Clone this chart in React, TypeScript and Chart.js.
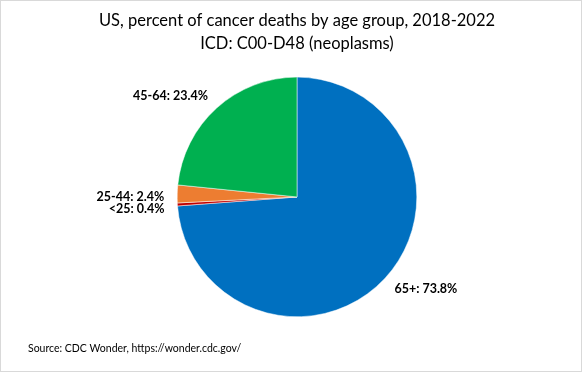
import React, { useEffect, useRef } from "react";
import { Chart, registerables } from "chart.js";

Chart.register(...registerables);

const categories = ["65+", "<25", "25-44", "45-64"];
const percents = [73.8, 0.4, 2.4, 23.4];
const sliceColors = ["#0070C0", "#C00000", "#ED7D31", "#00B050"];
const titleLines = ["US, percent of cancer deaths by age group, 2018-2022", "ICD: C00-D48 (neoplasms)"];
const sourceText = "Source: CDC Wonder, https://wonder.cdc.gov/";
const FONT = "Lato, 'Open Sans', sans-serif";

const labelPlugin = {
  id: "sliceLabels",
  afterDraw(chart: any) {
    const ctx = chart.ctx;
    const meta = chart.getDatasetMeta(0);
    ctx.save();
    ctx.fillStyle = "#000";
    ctx.font = `bold 12.5px ${FONT}`;
    ctx.textBaseline = "middle";
    meta.data.forEach((arc: any, i: number) => {
      const p = arc.getProps(["x", "y", "startAngle", "endAngle", "outerRadius"], true);
      const mid = (p.startAngle + p.endAngle) / 2;
      const d = p.outerRadius + 13;
      const x = p.x + Math.cos(mid) * d;
      const y = p.y + Math.sin(mid) * d;
      ctx.textAlign = x >= p.x ? "left" : "right";
      const adj = categories[i] === "<25" ? 4 : categories[i] === "25-44" ? 3 : categories[i] === "45-64" ? -2 : 2;
      ctx.fillText(`${categories[i]}: ${percents[i].toFixed(1)}%`, x, y + adj);
    });
    ctx.font = `10.5px ${FONT}`;
    ctx.textAlign = "left";
    ctx.fillText(sourceText, 27, chart.height - 22);
    ctx.restore();
  },
};

export default function App() {
  const ref = useRef<HTMLCanvasElement>(null);
  useEffect(() => {
    document.body.style.margin = "0";
    const chart = new Chart(ref.current!, {
      type: "pie",
      data: {
        labels: categories,
        datasets: [
          {
            data: percents,
            backgroundColor: sliceColors,
            borderColor: "#ffffff",
            borderWidth: 0.5,
          },
        ],
      },
      options: {
        animation: false,
        responsive: false,
        layout: { padding: { left: 12, right: 0, top: 0, bottom: 54 } },
        plugins: {
          legend: { display: false },
          tooltip: { enabled: false },
          title: {
            display: true,
            text: titleLines,
            color: "#000",
            font: { family: FONT, size: 16.5, weight: "normal", lineHeight: 1.39 },
            padding: { top: 8, bottom: 22 },
          },
        },
      },
      plugins: [labelPlugin],
    });
    return () => chart.destroy();
  }, []);
  return (
    <div style={{ width: 580, height: 370, border: "1px solid #d9d9d9", background: "#fff" }}>
      <canvas ref={ref} width={580} height={370} style={{ display: "block" }} />
    </div>
  );
}
